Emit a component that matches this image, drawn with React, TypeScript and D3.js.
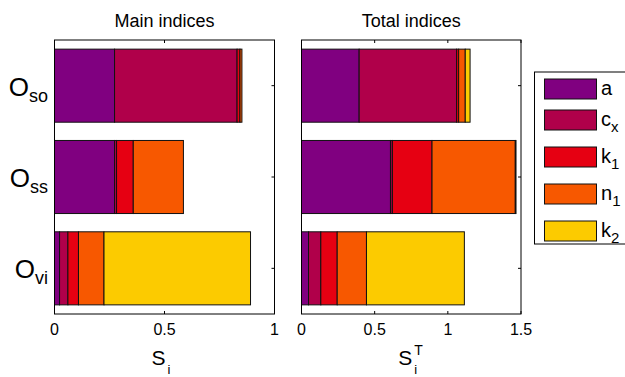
import React from "react";
import * as d3 from "d3";

const categories = ["so", "ss", "vi"];
const seriesNames = ["a", "c", "k", "n", "k"];
const seriesSubs = ["", "x", "1", "1", "2"];
const colors = ["#800080", "#b0004a", "#e60012", "#f75800", "#fccb00"];

const mainA = [0.273, 0.273, 0.023];
const mainCx = [0.557, 0.009, 0.038];
const mainK1 = [0.013, 0.076, 0.048];
const mainN1 = [0.009, 0.228, 0.116];
const mainK2 = [0.0, 0.0, 0.666];

const totalA = [0.394, 0.608, 0.048];
const totalCx = [0.666, 0.013, 0.084];
const totalK1 = [0.014, 0.271, 0.112];
const totalN1 = [0.045, 0.569, 0.2];
const totalK2 = [0.033, 0.005, 0.669];

const mainTicks = [0, 0.5, 1];
const mainTickLabels = ["0", "0.5", "1"];
const totalTicks = [0, 0.5, 1, 1.5];
const totalTickLabels = ["0", "0.5", "1", "1.5"];

const FONT = "Liberation Sans, Arial, Helvetica, sans-serif";

type PanelProps = {
  x0: number;
  x1: number;
  domainMax: number;
  series: number[][];
  ticks: number[];
  tickLabels: string[];
  title: string;
  xlabelSup: string;
};

const TOP = 40;
const BOTTOM = 314;

function Panel({ x0, x1, domainMax, series, ticks, tickLabels, title, xlabelSup }: PanelProps) {
  const x = d3.scaleLinear().domain([0, domainMax]).range([x0, x1]);
  const y = d3.scaleLinear().domain([0.5, 3.5]).range([TOP, BOTTOM]);
  const stacked = d3.stack<number>().keys(series.map((_, i) => String(i)))
    .value((d, key) => series[+key][d])(categories.map((_, i) => i));
  const barH = y(1.4) - y(0.6);
  const tickLen = 3;
  return (
    <g>
      {stacked.map((layer, si) =>
        layer.map((seg, ci) => {
          const w = x(seg[1]) - x(seg[0]);
          if (w <= 0) return null;
          return (
            <rect
              key={`${si}-${ci}`}
              x={x(seg[0])}
              y={y(ci + 1) - barH / 2}
              width={w}
              height={barH}
              fill={colors[si]}
              stroke="#111"
              strokeWidth={1}
            />
          );
        })
      )}
      <rect x={x0} y={TOP} width={x1 - x0} height={BOTTOM - TOP} fill="none" stroke="#000" strokeWidth={1} />
      {ticks.map((t, i) => (
        <g key={i}>
          <line x1={x(t)} x2={x(t)} y1={BOTTOM} y2={BOTTOM - tickLen} stroke="#000" />
          <line x1={x(t)} x2={x(t)} y1={TOP} y2={TOP + tickLen} stroke="#000" />
          <text x={x(t)} y={335} textAnchor="middle" fontSize={16} fontFamily={FONT} fill="#000">
            {tickLabels[i]}
          </text>
        </g>
      ))}
      {categories.map((_, ci) => (
        <g key={ci}>
          <line x1={x1} x2={x1 - tickLen} y1={y(ci + 1)} y2={y(ci + 1)} stroke="#000" />
        </g>
      ))}
      <text x={(x0 + x1) / 2} y={27} textAnchor="middle" fontSize={18} fontFamily={FONT} fill="#000">
        {title}
      </text>
      <text x={(x0 + x1) / 2 - 6} y={365} fontSize={21} fontFamily={FONT} fill="#000" textAnchor="middle">
        S
      </text>
      <text x={(x0 + x1) / 2 + 3} y={374} fontSize={13} fontFamily={FONT} fill="#000">
        i
      </text>
      {xlabelSup && (
        <text x={(x0 + x1) / 2 + 3} y={355} fontSize={14} fontFamily={FONT} fill="#000">
          {xlabelSup}
        </text>
      )}
    </g>
  );
}

export default function App() {
  const y = d3.scaleLinear().domain([0.5, 3.5]).range([TOP, BOTTOM]);
  const legendRows = [89, 120, 157, 194, 231];
  return (
    <svg width={625} height={377} style={{ position: "absolute", left: 0, top: 0, background: "#fff" }}>
      <rect x={0} y={0} width={625} height={377} fill="#fff" />
      <Panel
        x0={54.5}
        x1={274.5}
        domainMax={1}
        series={[mainA, mainCx, mainK1, mainN1, mainK2]}
        ticks={mainTicks}
        tickLabels={mainTickLabels}
        title="Main indices"
        xlabelSup=""
      />
      <Panel
        x0={301.5}
        x1={521}
        domainMax={1.5}
        series={[totalA, totalCx, totalK1, totalN1, totalK2]}
        ticks={totalTicks}
        tickLabels={totalTickLabels}
        title="Total indices"
        xlabelSup="T"
      />
      {categories.map((c, i) => (
        <text key={c} x={48} y={y(i + 1) + 10} textAnchor="end" fontFamily={FONT} fill="#000">
          <tspan fontSize={26}>O</tspan>
          <tspan fontSize={18} dy={6}>{c}</tspan>
        </text>
      ))}
      <rect x={534.5} y={72} width={120} height={172} fill="#fff" stroke="#000" strokeWidth={1} />
      {seriesNames.map((n, i) => (
        <g key={i}>
          <rect x={544.5} y={legendRows[i] - 10} width={52} height={20} fill={colors[i]} stroke="#111" strokeWidth={1} />
          <text x={601} y={legendRows[i] + 6} fontFamily={FONT} fill="#000">
            <tspan fontSize={20}>{n}</tspan>
            {seriesSubs[i] && (
              <tspan fontSize={15} dy={6}>{seriesSubs[i]}</tspan>
            )}
          </text>
        </g>
      ))}
    </svg>
  );
}
